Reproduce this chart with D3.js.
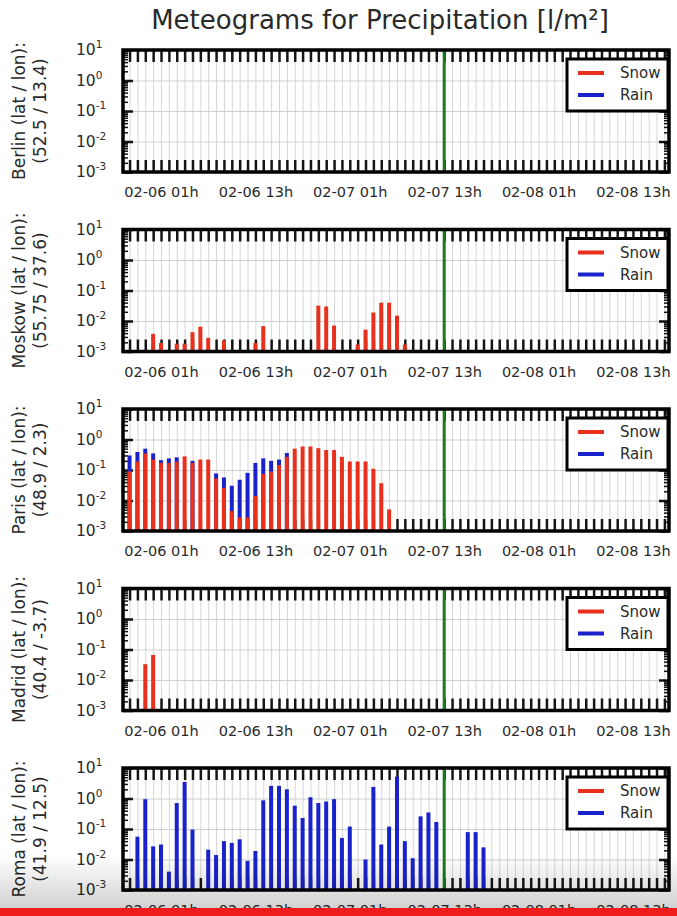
<!DOCTYPE html>
<html>
<head>
<meta charset="utf-8">
<script src="https://cdn.jsdelivr.net/npm/d3@7"></script>
<style>
  body { margin: 0; background: #fff; }
  svg { display: block; font-family: "DejaVu Sans", sans-serif; }
</style>
</head>
<body>
<script>
// values, one value per hour starting 02-05 21h (null = nothing)
var cities = ["Berlin", "Moskow", "Paris", "Madrid", "Roma"];
var coords = ["(52.5 / 13.4)", "(55.75 / 37.6)", "(48.9 / 2.3)", "(40.4 / -3.7)", "(41.9 / 12.5)"];

var berlinSnow = [];
var berlinRain = [];

var moskowSnow = [null, null, null, 0.0038, 0.0019, null, 0.0018, 0.0018, 0.0043, 0.0065,
  0.0028, null, 0.0023, null, null, null, 0.0019, 0.0068, null, null,
  null, null, null, null, 0.032, 0.030, 0.0071, null, null, 0.0017,
  0.0052, 0.019, 0.040, 0.040, 0.015, 0.0017];
var moskowRain = [];

var parisSnow = [0.09, 0.19, 0.35, 0.22, 0.17, 0.17, 0.19, 0.28, 0.17, 0.22,
  0.22, 0.053, 0.026, 0.0045, 0.0028, 0.0028, 0.014, 0.074, 0.089, 0.145,
  0.27, 0.50, 0.59, 0.59, 0.52, 0.45, 0.45, 0.27, 0.19, 0.19,
  0.19, 0.11, 0.037, 0.0051];
var parisRain = [0.21, 0.20, 0.15, 0.13, 0.04, 0.07, 0.07, null, 0.03, null,
  null, 0.024, 0.031, 0.026, 0.045, 0.078, 0.156, 0.166, 0.111, 0.075,
  0.09];

var madridSnow = [null, null, 0.033, 0.066];
var madridRain = [];

var romaSnow = [];
var romaRain = [null, 0.056, 0.95, 0.027, 0.031, 0.004, 0.71, 3.5, 0.096, null,
  0.021, 0.014, 0.040, 0.035, 0.046, 0.009, 0.019, 0.87, 2.6, 2.6,
  2.0, 0.58, 0.23, 1.1, 0.71, 0.80, 0.95, 0.051, 0.12, null,
  0.010, 2.4, 0.031, 0.12, 5.2, 0.040, 0.011, 0.26, 0.35, 0.17,
  null, null, null, 0.079, 0.079, 0.025];

var snowSeries = [berlinSnow, moskowSnow, parisSnow, madridSnow, romaSnow];
var rainSeries = [berlinRain, moskowRain, parisRain, madridRain, romaRain];

var tickLabels = ["02-06 01h", "02-06 13h", "02-07 01h", "02-07 13h", "02-08 01h", "02-08 13h"];
var yExponents = [1, 0, -1, -2, -3];

var firstHour = new Date(2016, 1, 5, 21);
var nowTime = new Date(2016, 1, 7, 13);
var timeStart = new Date(2016, 1, 5, 20, 10);
var timeEnd = new Date(2016, 1, 8, 17, 35);

var svgWidth = 677, svgHeight = 916;
var plotLeft = 123, plotRight = 669;
var plotH = 122;
var panelTop0 = 50, panelStep = 179.5;

var snowColor = "#e8301c", rainColor = "#1a22cc";
var textColor = "#2a2a2a";

var svg = d3.select("body").append("svg")
  .attr("width", svgWidth)
  .attr("height", svgHeight);

svg.append("rect").attr("width", svgWidth).attr("height", svgHeight).attr("fill", "#fff");

svg.append("text")
  .attr("x", 380)
  .attr("y", 29)
  .attr("text-anchor", "middle")
  .attr("font-size", 26)
  .attr("fill", textColor)
  .text("Meteograms for Precipitation [l/m²]");

var x = d3.scaleTime().domain([timeStart, timeEnd]).range([plotLeft, plotRight]);
var y = d3.scaleLog().domain([1e-3, 10]).range([plotH, 0]).clamp(true);

var hourTicks = d3.timeHour.range(d3.timeHour.ceil(timeStart), timeEnd);
var parseLabel = d3.timeParse("%Y-%m-%d %Hh");
var labelTimes = tickLabels.map(function(s) { return parseLabel("2016-" + s); });

var decades = yExponents.map(function(e) { return Math.pow(10, e); });
var minorTicks = y.ticks().filter(function(v) {
  return Math.abs(Math.log10(v) - Math.round(Math.log10(v))) > 1e-6;
});

function styleTicks(sel, color, width) {
  sel.select(".domain").remove();
  sel.selectAll("line").attr("stroke", color).attr("stroke-width", width);
}

function drawPanel(p) {
  var top = panelTop0 + p * panelStep;
  var g = svg.append("g").attr("transform", `translate(0, ${top})`);
  var snow = snowSeries[p], rain = rainSeries[p];

  // grid
  g.append("g")
    .attr("transform", `translate(0, ${plotH})`)
    .call(d3.axisBottom(x).tickValues(hourTicks).tickSize(-plotH).tickFormat(""))
    .call(styleTicks, "#d6d6d6", 1);
  g.append("g")
    .attr("transform", `translate(${plotLeft}, 0)`)
    .call(d3.axisLeft(y).tickValues([1e-2, 1e-1, 1]).tickSize(-(plotRight - plotLeft)).tickFormat(""))
    .call(styleTicks, "#cfcfcf", 1);

  // inward ticks on all four sides
  g.append("g")
    .call(d3.axisTop(x).tickValues(hourTicks).tickSize(-12).tickFormat(""))
    .call(styleTicks, "#151515", 2.5);
  g.append("g")
    .attr("transform", `translate(0, ${plotH})`)
    .call(d3.axisBottom(x).tickValues(hourTicks).tickSize(-12).tickFormat(""))
    .call(styleTicks, "#151515", 2.5);
  [[d3.axisLeft, plotLeft], [d3.axisRight, plotRight]].forEach(function(a) {
    g.append("g")
      .attr("transform", `translate(${a[1]}, 0)`)
      .call(a[0](y).tickValues(decades).tickSize(-10).tickFormat(""))
      .call(styleTicks, "#111", 2.5);
    g.append("g")
      .attr("transform", `translate(${a[1]}, 0)`)
      .call(a[0](y).tickValues(minorTicks).tickSize(-5).tickFormat(""))
      .call(styleTicks, "#111", 1.5);
  });

  // bars: rain stacked above snow
  var n = Math.max(snow.length, rain.length);
  var bars = d3.range(n).map(function(i) {
    var s = snow[i] || 0, r = rain[i] || 0;
    return { t: d3.timeHour.offset(firstHour, i), snow: s, total: s + r };
  });
  var bw = 4;
  g.selectAll(".rain").data(bars.filter(function(d) { return d.total > d.snow; }))
    .join("rect")
    .attr("x", function(d) { return x(d.t) - bw / 2; })
    .attr("y", function(d) { return y(d.total); })
    .attr("width", bw)
    .attr("height", function(d) { return plotH - y(d.total); })
    .attr("fill", rainColor);
  g.selectAll(".snow").data(bars.filter(function(d) { return d.snow > 0; }))
    .join("rect")
    .attr("x", function(d) { return x(d.t) - bw / 2; })
    .attr("y", function(d) { return y(d.snow); })
    .attr("width", bw)
    .attr("height", function(d) { return plotH - y(d.snow); })
    .attr("fill", snowColor);

  // current time
  g.append("line")
    .attr("x1", x(nowTime)).attr("x2", x(nowTime))
    .attr("y1", 0).attr("y2", plotH)
    .attr("stroke", "#1b7a1b")
    .attr("stroke-width", 3);

  g.append("rect")
    .attr("x", plotLeft).attr("y", 0)
    .attr("width", plotRight - plotLeft).attr("height", plotH)
    .attr("fill", "none")
    .attr("stroke", "#000")
    .attr("stroke-width", 3.5);

  // legend
  var lg = g.append("g").attr("transform", `translate(${plotRight - 102}, 9)`);
  lg.append("rect")
    .attr("width", 101).attr("height", 52)
    .attr("fill", "#fff")
    .attr("stroke", "#000")
    .attr("stroke-width", 3);
  [["Snow", snowColor, 14], ["Rain", rainColor, 36]].forEach(function(it) {
    lg.append("line")
      .attr("x1", 11).attr("x2", 37)
      .attr("y1", it[2]).attr("y2", it[2])
      .attr("stroke", it[1])
      .attr("stroke-width", 4);
    lg.append("text")
      .attr("x", 53).attr("y", it[2])
      .attr("dominant-baseline", "central")
      .attr("font-size", 15)
      .attr("fill", textColor)
      .text(it[0]);
  });

  // x labels
  g.append("g")
    .attr("transform", `translate(0, ${plotH})`)
    .call(d3.axisBottom(x).tickValues(labelTimes).tickSize(0).tickPadding(15)
      .tickFormat(d3.timeFormat("%m-%d %Hh")))
    .call(function(s) {
      s.select(".domain").remove();
      s.selectAll("text").attr("font-size", 14.5).attr("fill", textColor)
        .attr("font-family", "DejaVu Sans");
    });

  // y labels 10^n
  yExponents.forEach(function(e) {
    var t = g.append("text")
      .attr("x", 76)
      .attr("y", y(Math.pow(10, e)) + 5)
      .attr("font-size", 15.5)
      .attr("fill", textColor);
    t.append("tspan").text("10");
    t.append("tspan").attr("dy", -7).attr("font-size", 10.5).text(e);
  });

  // axis title
  var lab = g.append("g").attr("transform", `translate(0, ${plotH / 2})`);
  [[cities[p] + " (lat / lon):", 19], [coords[p], 40]].forEach(function(l) {
    lab.append("text")
      .attr("transform", `translate(${l[1]}, 0) rotate(-90)`)
      .attr("text-anchor", "middle")
      .attr("dominant-baseline", "central")
      .attr("font-size", 17)
      .attr("fill", textColor)
      .text(l[0]);
  });
}

cities.forEach(function(c, p) { drawPanel(p); });

// shaded strip and red bar at the foot of the picture
var grad = svg.append("defs").append("linearGradient")
  .attr("id", "shade").attr("x1", 0).attr("x2", 0).attr("y1", 0).attr("y2", 1);
grad.append("stop").attr("offset", 0).attr("stop-color", "#000").attr("stop-opacity", 0);
grad.append("stop").attr("offset", 1).attr("stop-color", "#000").attr("stop-opacity", 0.18);
svg.append("rect").attr("x", 0).attr("y", 855).attr("width", svgWidth).attr("height", 53)
  .attr("fill", "url(#shade)");
svg.append("rect").attr("x", 0).attr("y", 908).attr("width", svgWidth).attr("height", 8)
  .attr("fill", "#ee1c1c");
</script>
</body>
</html>
